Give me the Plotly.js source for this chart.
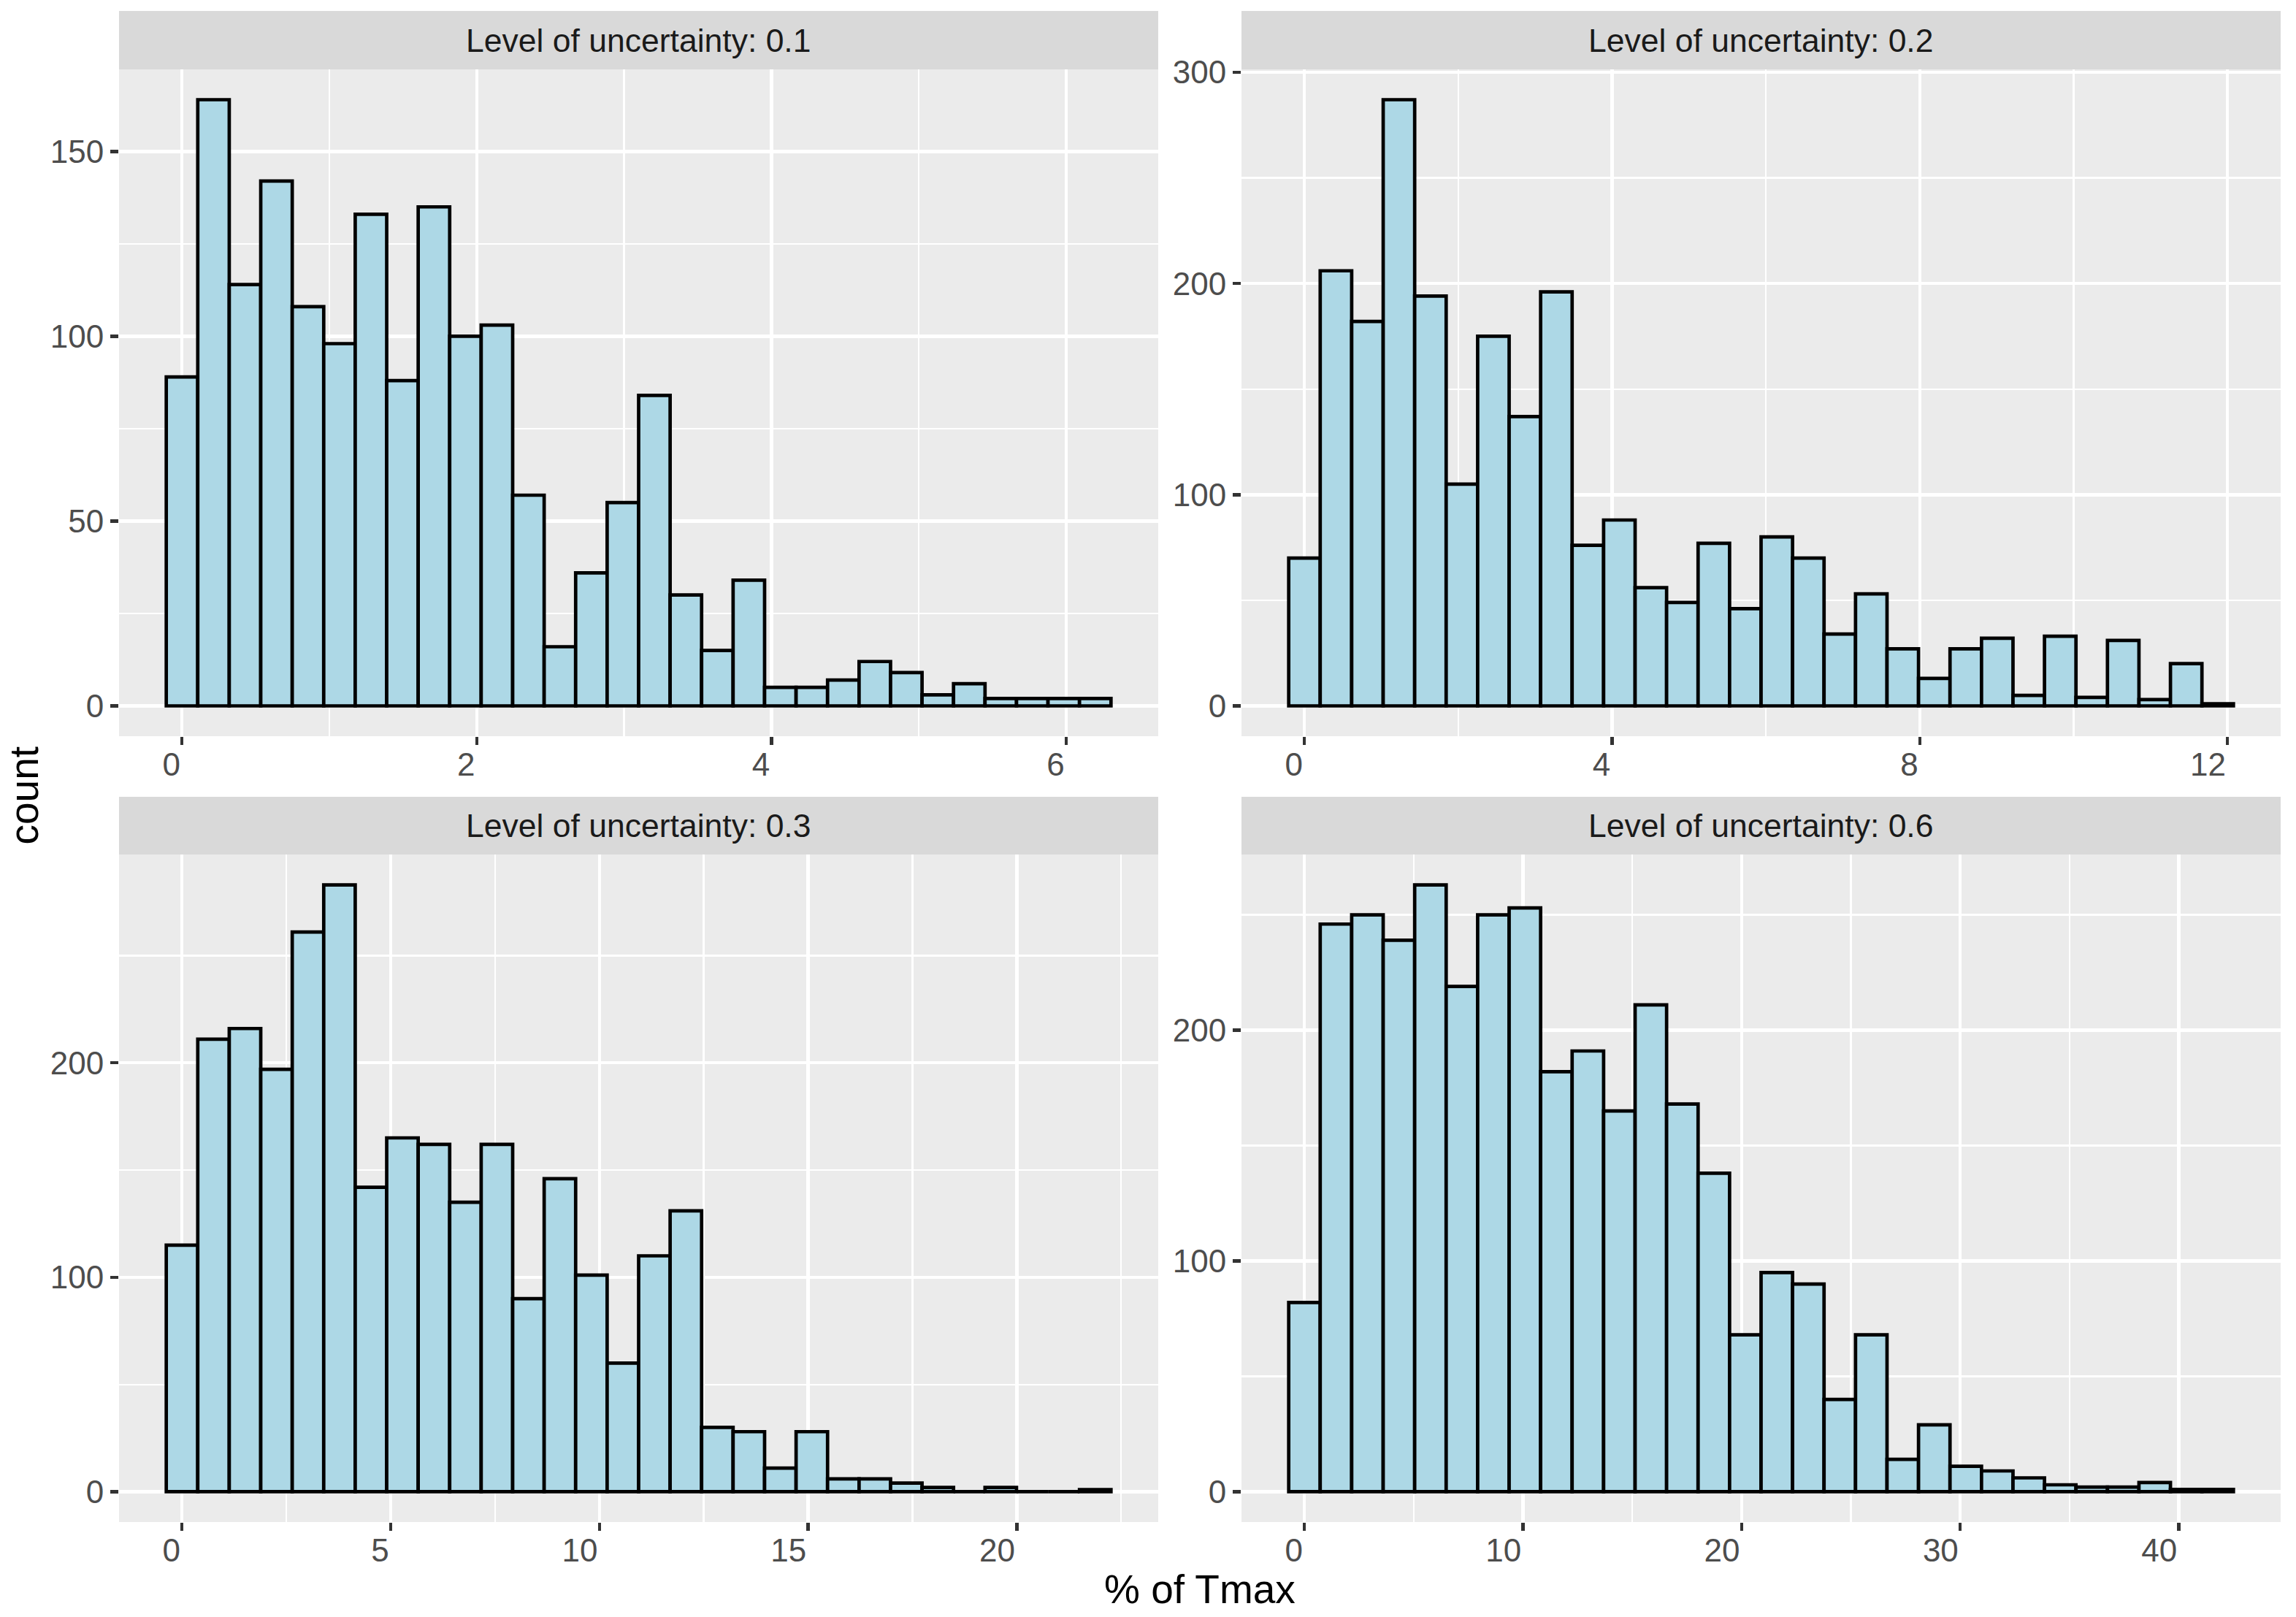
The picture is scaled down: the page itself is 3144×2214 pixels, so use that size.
<!DOCTYPE html>
<html>
<head>
<meta charset="utf-8">
<script src="https://cdn.plot.ly/plotly-3.0.1.min.js"></script>
<style>html,body{margin:0;padding:0;background:#fff;}#chart{width:3144px;height:2214px;}</style>
</head>
<body>
<div id="chart"></div>
<script>
// ---- data ----
const panelTitles = ["Level of uncertainty: 0.1", "Level of uncertainty: 0.2", "Level of uncertainty: 0.3", "Level of uncertainty: 0.6"];
const binStart = [0, 0, 0, 0];            // centre of first bin (% of Tmax)
const binWidth = [0.2137, 0.4094, 0.7545, 1.4408];
const counts01 = [89,164,114,142,108,98,133,88,135,100,103,57,16,36,55,84,30,15,34,5,5,7,12,9,3,6,2,2,2,2];
const counts02 = [70,206,182,287,194,105,175,137,196,76,88,56,49,77,46,80,70,34,53,27,13,27,32,5,33,4,31,3,20,1];
const counts03 = [115,211,216,197,261,283,142,165,162,135,162,90,146,101,60,110,131,30,28,11,28,6,6,4,2,0,2,0,0,1];
const counts06 = [82,246,250,239,263,219,250,253,182,191,165,211,168,138,68,95,90,40,68,14,29,11,9,6,3,2,2,4,1,1];
const xTickStep = [2, 4, 5, 10];
const yTickStep = [50, 100, 100, 100];
const xTitle = "% of Tmax";
const yTitle = "count";

const allCounts = [counts01, counts02, counts03, counts06];

// ---- layout geometry (pixels) ----
const W = 3144, H = 2214;
const cols = [[163, 1586], [1700, 3123]];
const rows = [{strip: [15, 95], plot: [95, 1008]}, {strip: [1091, 1170], plot: [1170, 2084]}];
const px = v => v / W, py = v => 1 - v / H;

const FONT = "Liberation Sans, Arial, Helvetica, sans-serif";
const traces = [];
const layout = {
  width: W, height: H,
  margin: {l: 0, r: 0, t: 0, b: 0},
  paper_bgcolor: "#FFFFFF",
  plot_bgcolor: "#EBEBEB",
  showlegend: false,
  bargap: 0,
  font: {family: FONT},
  shapes: [],
  annotations: []
};

allCounts.forEach((cnt, i) => {
  const r = Math.floor(i / 2), c = i % 2;
  const n = cnt.length, w = binWidth[i];
  const centres = cnt.map((_, k) => binStart[i] + k * w);
  const xa = i === 0 ? "x" : "x" + (i + 1), ya = i === 0 ? "y" : "y" + (i + 1);
  traces.push({
    type: "bar", x: centres, y: cnt, width: w,
    xaxis: xa, yaxis: ya,
    marker: {color: "#ADD8E6", line: {color: "#000000", width: 4.7}},
    hoverinfo: "x+y"
  });
  const lo = binStart[i] - w / 2, hi = binStart[i] + (n - 0.5) * w;
  const span = hi - lo;
  const ymax = Math.max(...cnt);
  const axCommon = {
    showline: false, zeroline: false,
    ticks: "outside", ticklen: 11, tickwidth: 4.5, tickcolor: "#333333",
    tickfont: {family: FONT, size: 44, color: "#4D4D4D"},
    showgrid: true, gridcolor: "#FFFFFF", gridwidth: 4.5,
    tick0: 0
  };
  layout[i === 0 ? "xaxis" : "xaxis" + (i + 1)] = Object.assign({}, axCommon, {
    anchor: ya,
    domain: [px(cols[c][0]), px(cols[c][1])],
    range: [lo - 0.05 * span, hi + 0.05 * span],
    dtick: xTickStep[i],
    ticklabelposition: "outside left",
    minor: {dtick: xTickStep[i] / 2, tick0: 0, showgrid: true, gridcolor: "#FFFFFF", gridwidth: 2.3, ticks: ""}
  });
  layout[i === 0 ? "yaxis" : "yaxis" + (i + 1)] = Object.assign({}, axCommon, {
    anchor: xa,
    domain: [py(rows[r].plot[1]), py(rows[r].plot[0])],
    range: [-0.05 * ymax, 1.05 * ymax],
    dtick: yTickStep[i],
    minor: {dtick: yTickStep[i] / 2, tick0: 0, showgrid: true, gridcolor: "#FFFFFF", gridwidth: 2.3, ticks: ""}
  });
  // facet strip
  layout.shapes.push({
    type: "rect", xref: "paper", yref: "paper", layer: "below",
    x0: px(cols[c][0]), x1: px(cols[c][1]),
    y0: py(rows[r].strip[1]), y1: py(rows[r].strip[0]),
    fillcolor: "#D9D9D9", line: {width: 0}
  });
  layout.annotations.push({
    xref: "paper", yref: "paper", showarrow: false,
    x: px((cols[c][0] + cols[c][1]) / 2), y: py((rows[r].strip[0] + rows[r].strip[1]) / 2),
    xanchor: "center", yanchor: "middle",
    text: panelTitles[i],
    font: {family: FONT, size: 44.5, color: "#1A1A1A"}
  });
});

layout.annotations.push({
  xref: "paper", yref: "paper", showarrow: false,
  x: px((cols[0][0] + cols[1][1]) / 2), y: py(2176),
  xanchor: "center", yanchor: "middle",
  text: xTitle, font: {family: FONT, size: 55, color: "#000000"}
});
layout.annotations.push({
  xref: "paper", yref: "paper", showarrow: false,
  x: px(32), y: py((rows[0].plot[0] + rows[1].plot[1]) / 2),
  xanchor: "center", yanchor: "middle", textangle: -90,
  text: yTitle, font: {family: FONT, size: 55, color: "#000000"}
});

Plotly.newPlot("chart", traces, layout, {displayModeBar: false, staticPlot: true});
</script>
</body>
</html>
